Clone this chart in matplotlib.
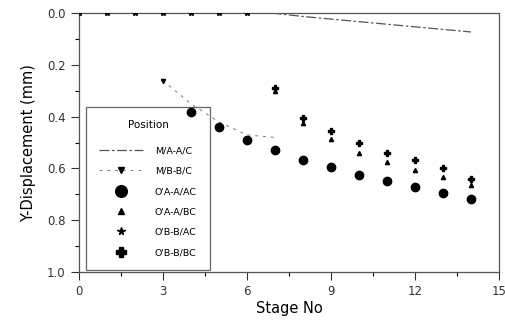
import matplotlib.pyplot as plt

stages = list(range(0, 15))

# top line M/A-A/C (0 .. 14)
ma_x = [0, 1, 2, 3, 4, 5, 6, 7, 8, 9, 10, 11, 12, 13, 14]
ma_y = [0, 0, 0, 0, 0, 0, 0, 0.0, 0.012, 0.022, 0.032, 0.042, 0.052, 0.062, 0.072]

mb_x = [3, 4, 5, 6, 7]
mb_y = [0.26, 0.35, 0.42, 0.47, 0.48]

oa_ac_x = [4, 5, 6, 7, 8, 9, 10, 11, 12, 13, 14]
oa_ac_y = [0.38, 0.44, 0.49, 0.53, 0.567, 0.595, 0.626, 0.65, 0.672, 0.696, 0.72]

oa_bc_x = [7, 8, 9, 10, 11, 12, 13, 14]
oa_bc_y = [0.30, 0.424, 0.486, 0.54, 0.575, 0.607, 0.634, 0.665]

ob_ac_x = [0, 1, 2, 3, 4, 5, 6]
ob_ac_y = [0, 0, 0, 0, 0, 0, 0]

ob_bc_x = [7, 8, 9, 10, 11, 12, 13, 14]
ob_bc_y = [0.29, 0.405, 0.455, 0.50, 0.54, 0.567, 0.60, 0.64]

fig = plt.figure(figsize=(5.06, 3.26), dpi=100)
ax = fig.add_axes([0.156, 0.166, 0.830, 0.793])

ax.plot(ma_x, ma_y, color='#555555', lw=0.9, ls=(0, (8, 2, 2, 2)), label="M/A-A/C", zorder=3)
ax.plot(mb_x, mb_y, color='#777777', lw=0.7, ls=(0, (3, 5)), marker='v', ms=3,
        mfc='black', mec='black', markevery=[0], label="M/B-B/C", zorder=3)
ax.plot(oa_ac_x, oa_ac_y, 'o', color='black', ms=6, label="O'A-A/AC", zorder=3)
ax.plot(oa_bc_x, oa_bc_y, '^', color='black', ms=3, label="O'A-A/BC", zorder=3)
ax.plot(ob_ac_x, ob_ac_y, '*', color='black', ms=4, label="O'B-B/AC", zorder=3)
ax.plot(ob_bc_x, ob_bc_y, 'P', color='black', ms=5, label="O'B-B/BC", zorder=3)

ax.set_xlim(0, 15)
ax.set_ylim(1.0, 0.0)
ax.set_xticks([0, 3, 6, 9, 12, 15])
ax.set_yticks([0.0, 0.2, 0.4, 0.6, 0.8, 1.0])
ax.set_yticklabels(['0.0', '0.2', '0.4', '0.6', '0.8', '1.0'])
ax.set_xticks([1.5, 4.5, 7.5, 10.5, 13.5], minor=True)
ax.set_yticks([0.1, 0.3, 0.5, 0.7, 0.9], minor=True)
ax.tick_params(direction='out', length=6, width=0.8, labelsize=8.5, colors='#333333')
ax.tick_params(which='minor', direction='out', length=3, width=0.8)
for s in ax.spines.values():
    s.set_color('#555555')
    s.set_linewidth(0.9)

ax.set_xlabel("Stage No", fontsize=10.5, labelpad=2)
ax.set_ylabel("Y-Displacement (mm)", fontsize=10.5, labelpad=8)

leg = ax.legend(loc='lower left', bbox_to_anchor=(0.01, -0.005), title="Position",
                fontsize=6.8, title_fontsize=7.5, labelspacing=1.2, handlelength=4.6,
                handletextpad=1.3, markerscale=1.4, borderpad=1.4, borderaxespad=0.3,
                fancybox=False, edgecolor='#666666', framealpha=1)
leg.get_frame().set_linewidth(0.9)
leg._legend_box.sep = 12
leg.set_zorder(2)

fig.savefig("out.png", dpi=100)
